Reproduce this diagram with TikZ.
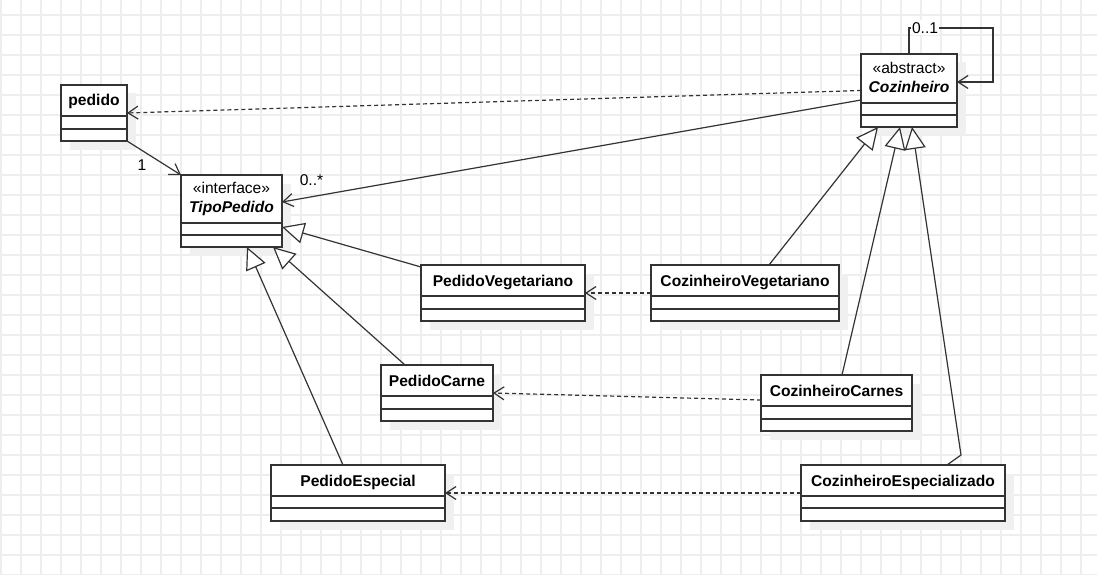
\documentclass[tikz,border=0pt]{standalone}
\usepackage{fontspec}
\setmainfont{Liberation Sans}
\usetikzlibrary{arrows.meta,shadows}
\definecolor{gridc}{HTML}{EEEEEE}
\definecolor{lc}{HTML}{333333}
\definecolor{shc}{HTML}{F0F0F0}
\tikzset{
  gridline/.style={draw=gridc, line width=1.5pt},
  cls/.style={draw=lc, line width=1.5pt, fill=white, inner sep=0pt, outer sep=0pt,
    drop shadow={shadow xshift=8.5pt, shadow yshift=-8.5pt, fill=shc, opacity=1}},
  clsline/.style={draw=lc, line width=1.5pt},
  txt/.style={inner sep=0pt, anchor=base, font=\fontsize{15.6}{18}\selectfont},
  ttl/.style={txt, font=\fontsize{15.6}{18}\selectfont\bfseries},
  abst/.style={txt, font=\fontsize{15.6}{18}\selectfont\bfseries\itshape},
  conn/.style={draw=lc, line width=1.2pt},
  dep/.style={conn, dash pattern=on 4pt off 3pt, -{Straight Barb[length=10pt,width=13pt]}},
  assoc/.style={conn, -{Straight Barb[length=10pt,width=13pt]}},
  gen/.style={conn, -{Triangle[length=22pt,width=21pt,fill=white]}},
}
\newcommand\umlbox[7]{%
  \node[cls, minimum width={(#4)-(#2)}, minimum height={(#5)-(#3)}] (#1) at ({((#2)+(#4))/2},{((#3)+(#5))/2}) {};
  \draw[clsline] (#2,#6) -- (#4,#6) (#2,#7) -- (#4,#7);}
\begin{document}
\begin{tikzpicture}[x=1pt,y=-1pt]
\useasboundingbox (0,0) rectangle (1097,575);
\fill[white] (0,0) rectangle (1097,575);
\foreach \x in {1,21,...,1097} \draw[gridline] (\x,0) -- (\x,575);
\foreach \y in {15,35,...,575} \draw[gridline] (0,\y) -- (1097,\y);

% classes
\umlbox{pedido}{61}{85}{127}{141}{116}{129}
\node[ttl] (pedido-t) at (94,106) {pedido};

\umlbox{tp}{181}{175}{282}{247}{223}{235}
\node[txt] (tp-s) at (231.5,193.3) {«interface»};
\node[abst] (tp-t) at (231.5,212.7) {TipoPedido};

\umlbox{cz}{861}{54}{957}{127}{103}{115}
\node[txt] (cz-s) at (909,74) {«abstract»};
\node[abst] (cz-t) at (909,92.7) {Cozinheiro};

\umlbox{pv}{421}{265}{585}{321}{296}{309}
\node[ttl] (pv-t) at (503,286) {PedidoVegetariano};

\umlbox{cv}{651}{265}{839}{321}{296}{309}
\node[ttl] (cv-t) at (745,286) {CozinheiroVegetariano};

\umlbox{pc}{381}{365}{493}{421}{396}{409}
\node[ttl] (pc-t) at (437,386) {PedidoCarne};

\umlbox{cc}{761}{375}{912}{431}{406}{419}
\node[ttl] (cc-t) at (836.5,396) {CozinheiroCarnes};

\umlbox{pe}{271}{465}{445}{521}{496}{508}
\node[ttl] (pe-t) at (358,486) {PedidoEspecial};

\umlbox{ce}{801}{465}{1005}{521}{496}{508}
\node[ttl] (ce-t) at (903,486) {CozinheiroEspecializado};

% associations
\draw[assoc] (pedido.south east) -- (tp.north west);
\node[txt] (m1) at (142,170) {1};
\draw[dep] (cz.west) -- (pedido.east);
\draw[assoc] ([yshift=-9.5pt]cz.west) -- ([yshift=9pt]tp.east);
\node[txt] (m2) at (311.5,185) {0..*};
\draw[assoc] (cz.north) -- ++(0,-26) -- ++(84,0) |- ([yshift=8.5pt]cz.east);
\node[txt, fill=white, inner xsep=1pt, inner ysep=2pt] (m3) at (925,33.3) {0..1};

% generalizations
\draw[gen] ([yshift=-2pt]pv.north west) -- ([yshift=-16pt]tp.east);
\draw[gen] ([xshift=-32pt]pc.north) -- ([xshift=41.5pt]tp.south);
\draw[gen] ([xshift=-15pt]pe.north) -- ([xshift=15.5pt]tp.south);
\draw[gen] ([xshift=24pt]cv.north) -- ([xshift=-31pt]cz.south);
\draw[gen] ([xshift=5.5pt]cc.north) -- ([xshift=-9pt]cz.south);
\draw[gen] ([xshift=44pt]ce.north) -- ++(14,-10) -- ([xshift=3pt]cz.south);

% dependencies
\draw[dep] (cv.west) -- (pv.east);
\draw[dep] ([yshift=3pt]cc.west) -- (pc.east);
\draw[dep] (ce.west) -- (pe.east);
\end{tikzpicture}
\end{document}
